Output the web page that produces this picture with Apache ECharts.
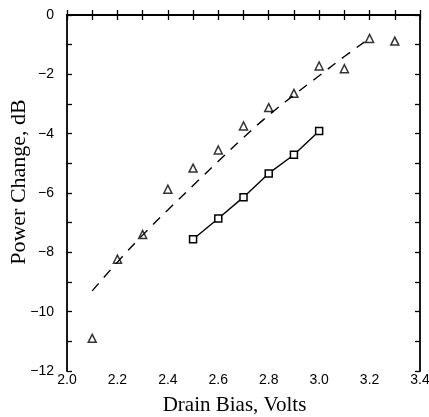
<!DOCTYPE html>
<html>
<head>
<meta charset="utf-8">
<script src="https://cdn.jsdelivr.net/npm/echarts@6/dist/echarts.min.js"></script>
<style>
  html, body { margin: 0; padding: 0; background: #fff; }
  #chart { width: 429px; height: 417px; }
</style>
</head>
<body>
<div id="chart"></div>
<script>
// measured triangles (drain bias, power change)
var triX = [2.1, 2.2, 2.3, 2.4, 2.5, 2.6, 2.7, 2.8, 2.9, 3.0, 3.1, 3.2, 3.3];
var triY = [-10.9, -8.23, -7.4, -5.87, -5.16, -4.55, -3.74, -3.12, -2.64, -1.72, -1.81, -0.79, -0.88];

// squares with solid line
var sqX = [2.5, 2.6, 2.7, 2.8, 2.9, 3.0];
var sqY = [-7.56, -6.86, -6.14, -5.34, -4.71, -3.91];

// dashed curve
var dashX = [2.1, 2.2, 2.3, 2.4, 2.5, 2.6, 2.7, 2.8, 2.9, 3.0, 3.1, 3.2];
var dashY = [-9.3, -8.33, -7.42, -6.57, -5.75, -4.93, -4.13, -3.38, -2.7, -2.05, -1.4, -0.79];

function pairs(xs, ys) {
  var out = [];
  for (var i = 0; i < xs.length; i++) out.push([xs[i], ys[i]]);
  return out;
}

var chart = echarts.init(document.getElementById('chart'));
var sans = 'Liberation Sans';
var serif = 'Liberation Serif';

var tickStyle = { color: '#000', width: 1.3 };
var frameLine = { show: true, lineStyle: { color: '#000', width: 1.8 } };

var option = {
  animation: false,
  backgroundColor: '#fff',
  grid: { left: 67, right: 9, top: 15, bottom: 46, containLabel: false, outerBoundsMode: 'none' },
  xAxis: [
    {
      type: 'value', min: 2.0, max: 3.4, interval: 0.2,
      name: 'Drain Bias, Volts', nameLocation: 'middle', nameGap: 24, nameMoveOverlap: false,
      nameTextStyle: { fontFamily: serif, fontSize: 21, color: '#000', verticalAlign: 'top', padding: [0, 18, 0, 0] },
      axisLine: frameLine,
      axisTick: { inside: true, length: 5, lineStyle: tickStyle },
      minorTick: { show: true, splitNumber: 2, length: 5, lineStyle: tickStyle },
      axisLabel: {
        color: '#000', fontFamily: sans, fontSize: 14, margin: 2,
        formatter: function (v) { return v.toFixed(1); }
      },
      splitLine: { show: false }
    },
    {
      type: 'value', position: 'top', min: 2.0, max: 3.4, interval: 0.2,
      axisLine: frameLine,
      axisTick: { inside: true, length: 5, lineStyle: tickStyle },
      minorTick: { show: true, splitNumber: 2, length: 5, lineStyle: tickStyle },
      axisLabel: { show: false },
      splitLine: { show: false }
    }
  ],
  yAxis: [
    {
      type: 'value', min: -12, max: 0, interval: 2,
      name: 'Power Change, dB', nameLocation: 'middle', nameGap: 37, nameMoveOverlap: false,
      nameTextStyle: { fontFamily: serif, fontSize: 22, color: '#000', padding: [0, 0, 0, 22] },
      axisLine: frameLine,
      axisTick: { inside: true, length: 5, lineStyle: tickStyle },
      minorTick: { show: true, splitNumber: 2, length: 5, lineStyle: tickStyle },
      axisLabel: {
        color: '#000', fontFamily: sans, fontSize: 14, margin: 13,
        formatter: function (v) { return String(v).replace('-', '\u2212'); }
      },
      splitLine: { show: false }
    },
    {
      type: 'value', position: 'right', min: -12, max: 0, interval: 2,
      axisLine: frameLine,
      axisTick: { inside: true, length: 5, lineStyle: tickStyle },
      minorTick: { show: true, splitNumber: 2, length: 5, lineStyle: tickStyle },
      axisLabel: { show: false },
      splitLine: { show: false }
    }
  ],
  series: [
    {
      type: 'line', data: pairs(dashX, dashY), smooth: true,
      showSymbol: false, symbol: 'none',
      lineStyle: { color: '#000', width: 1.4, type: [10, 8] }
    },
    {
      type: 'line', data: pairs(sqX, sqY),
      symbol: 'rect', symbolSize: 7,
      lineStyle: { color: '#000', width: 1.4 },
      itemStyle: { color: '#fff', borderColor: '#000', borderWidth: 1.5 }
    },
    {
      type: 'scatter', data: pairs(triX, triY),
      symbol: 'triangle', symbolSize: 8,
      itemStyle: { color: '#fff', borderColor: '#000', borderWidth: 1.5 }
    }
  ]
};
chart.setOption(option);
</script>
</body>
</html>
